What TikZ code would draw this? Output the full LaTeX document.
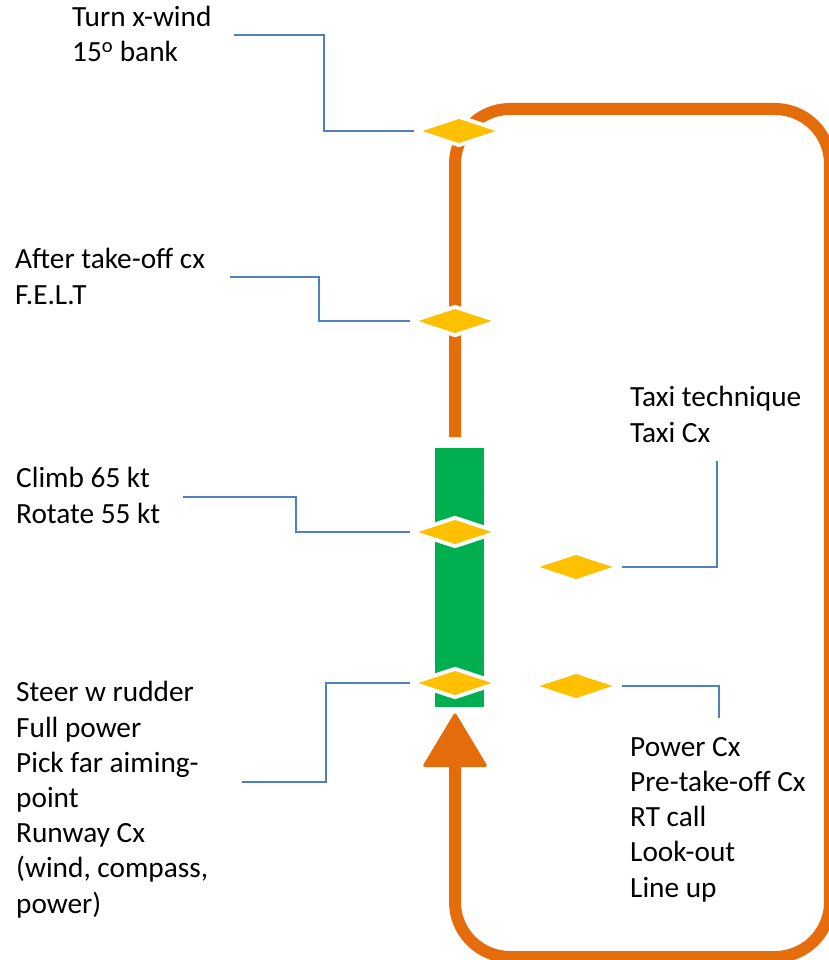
\documentclass[tikz,border=0pt]{standalone}
\usepackage{fontspec}
\setmainfont{Carlito}
\usetikzlibrary{shapes.geometric}
\definecolor{orng}{HTML}{E46C0A}
\definecolor{grn}{HTML}{00B050}
\definecolor{ylw}{HTML}{FFC000}
\definecolor{blu}{HTML}{4F81BD}
\begin{document}
\begin{tikzpicture}[x=1pt,y=-1pt,
  loopline/.style={draw=orng,line width=12pt},
  dia/.style={diamond,fill=ylw,inner sep=0pt,outer sep=0pt,minimum width=73pt,minimum height=24pt,preaction={draw=white,line width=8pt}},
  blueline/.style={draw=blu,line width=1.8pt},
  lbl/.style={anchor=base west,inner sep=0pt,align=left,font=\fontsize{29.3}{35.2}\selectfont}]
\useasboundingbox (0,0) rectangle (828,960);
% orange loop
\draw[loopline,rounded corners=55pt] (455,437) -- (455,109) -- (830,109) -- (830,957) -- (455,957) -- (455,765);
\fill[orng,rounded corners=3pt] (422,767) -- (455,712) -- (488,767) -- cycle;
% runway
\node[fill=grn,inner sep=0pt,minimum width=49pt,minimum height=259pt] (rwy) at (459.5,577.5) {};
% diamonds
\node[dia] (d1) at (459,131) {};
\node[dia] (d2) at (455,321) {};
\node[dia] (d3) at (455,532) {};
\node[dia] (d4) at (455,683) {};
\node[dia] (d5) at (576,567) {};
\node[dia] (d6) at (576,686) {};
% labels (anchored at the baseline of the last line)
\node[lbl] (t1) at (72,62) {Turn x-wind\\15\textsuperscript{o} bank};
\node[lbl] (t2) at (15,304) {After take-off cx\\F.E.L.T};
\node[lbl] (t3) at (16,523) {Climb 65 kt\\Rotate 55 kt};
\node[lbl] (t4) at (16,913) {Steer w rudder\\Full power\\Pick far aiming-\\point\\Runway Cx\\(wind, compass,\\power)};
\node[lbl] (t5) at (630,442) {Taxi technique\\Taxi Cx};
\node[lbl] (t6) at (630,897) {Power Cx\\Pre-take-off Cx\\RT call\\Look-out\\Line up};
% connector ends
\coordinate (b1) at (234,35);
\coordinate (b2) at (230,277);
\coordinate (b3) at (183,497);
\coordinate (b4) at (242,782);
\coordinate (b5) at (717,461);
\coordinate (b6) at (719,718);
\draw[blueline] (b1) -| ([xshift=-98.5pt]d1.west) -- ([xshift=-8.5pt]d1.west);
\draw[blueline] (b2) -| ([xshift=-99.5pt]d2.west) -- ([xshift=-8.5pt]d2.west);
\draw[blueline] (b3) -| ([xshift=-122.5pt]d3.west) -- ([xshift=-8.5pt]d3.west);
\draw[blueline] (b4) -| ([xshift=-92.5pt]d4.west) -- ([xshift=-8.5pt]d4.west);
\draw[blueline] ([xshift=9.5pt]d5.east) -| (b5);
\draw[blueline] ([xshift=9.5pt]d6.east) -| (b6);
\end{tikzpicture}
\end{document}
